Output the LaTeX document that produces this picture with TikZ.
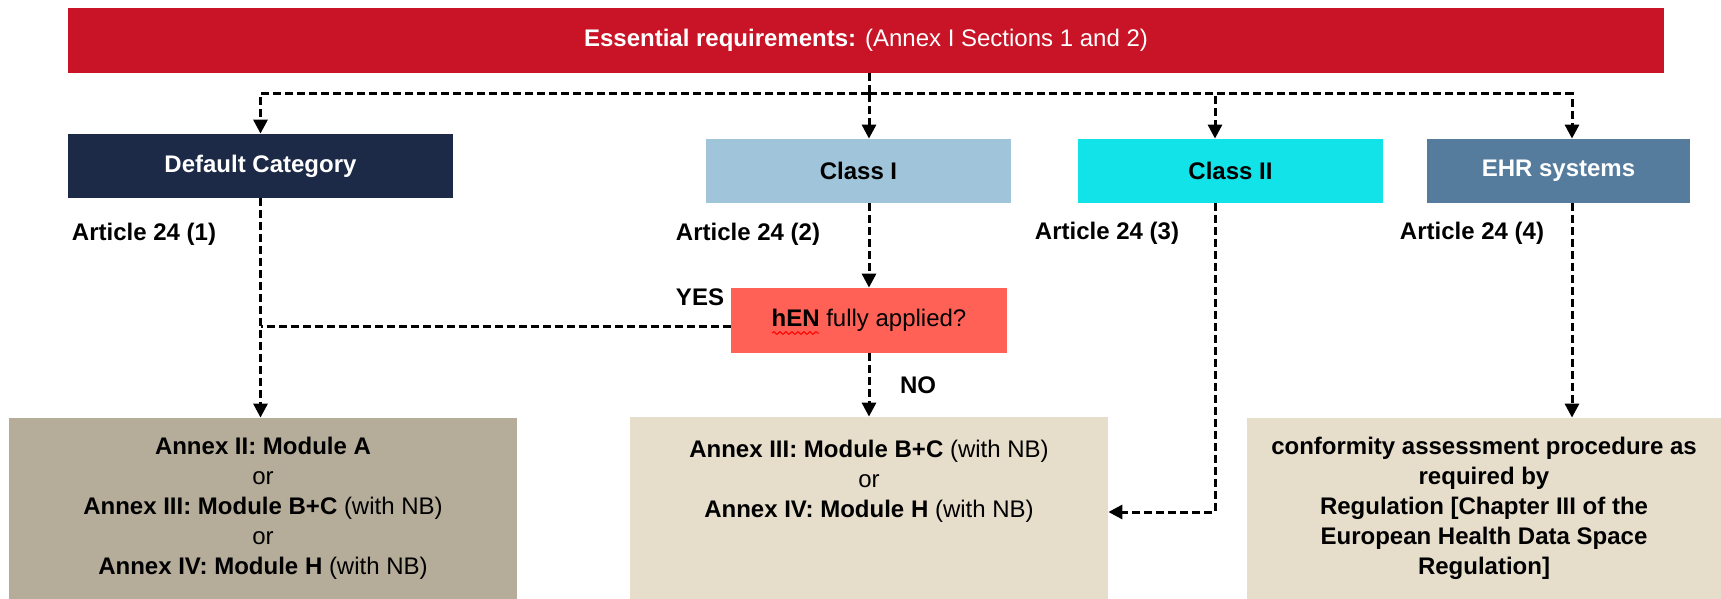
\documentclass[tikz,border=0pt]{standalone}
\usepackage{fontspec}
\setmainfont{Liberation Sans}
\usepackage{xcolor}
\usepackage{tikz}
\usetikzlibrary{arrows.meta,decorations.pathmorphing}

\definecolor{ereq}{RGB}{200,20,38}
\definecolor{navy}{RGB}{28,42,72}
\definecolor{clsonec}{RGB}{160,196,218}
\definecolor{clstwoc}{RGB}{18,227,232}
\definecolor{ehrc}{RGB}{85,123,157}
\definecolor{henc}{RGB}{255,97,86}
\definecolor{tandark}{RGB}{181,172,154}
\definecolor{tanlight}{RGB}{230,221,203}

\begin{document}
\begin{tikzpicture}[x=0.5pt, y=-0.5pt, >={Triangle[length=7pt,width=7pt]},
  font=\fontsize{12}{15}\selectfont\bfseries,
  box/.style={inner sep=0pt, align=center},
  flow/.style={line width=1.5pt, dash pattern=on 4pt off 2pt}]
  \useasboundingbox (0,0) rectangle (1721,599);

  \node[box, fill=ereq, text=white, minimum width=798pt, minimum height=32.5pt] (req) at (866,40.5) {Essential requirements: \mdseries(Annex I Sections 1 and 2)};

  \node[box, fill=navy, text=white, minimum width=192.5pt, minimum height=32pt] (dflt) at (260.5,166) {Default Category};
  \node[box, fill=clsonec, minimum width=152.5pt, minimum height=32pt] (clsone) at (858.5,171) {Class I};
  \node[box, fill=clstwoc, minimum width=152.5pt, minimum height=32pt] (clstwo) at (1230.5,171) {Class II};
  \node[box, fill=ehrc, text=white, minimum width=131.5pt, minimum height=32pt] (ehr) at (1558.5,171) {EHR systems};

  \node (art1) at (144,234) {Article 24 (1)};
  \node (art2) at (748,234) {Article 24 (2)};
  \node (art3) at (1107,233) {Article 24 (3)};
  \node (art4) at (1472,233) {Article 24 (4)};

  \node[box, fill=henc, minimum width=138pt, minimum height=32.5pt] (hen) at (869,320.5) {hEN \mdseries fully applied?};
  \node (yes) at (700,297) {YES};
  \node (no) at (918,385) {NO};

  \node[box, fill=tandark, minimum width=254pt, minimum height=90.5pt] (modA) at (263,508.5) {Annex II: Module A\\ {\mdseries or}\\ Annex III: Module B+C {\mdseries(with NB)}\\ {\mdseries or}\\ Annex IV: Module H {\mdseries(with NB)}};
  \node[box, fill=tanlight, minimum width=239pt, minimum height=91pt] (modBC) at (869,508) {};
  \node[box] (modBCtext) at (869,481) {Annex III: Module B+C {\mdseries(with NB)}\\ {\mdseries or}\\ Annex IV: Module H {\mdseries(with NB)}};
  \node[box, fill=tanlight, minimum width=237pt, minimum height=90.5pt] (cap) at (1484,508.5) {conformity assessment procedure as\\ required by\\ Regulation [Chapter III of the\\ European Health Data Space\\ Regulation]};

  \coordinate (split) at (869,94);
  \coordinate (twofoot) at ([xshift=-7.75pt]clstwo.south);
  \coordinate (ehrfoot) at ([xshift=6.75pt]ehr.south);
  \coordinate (yesend) at ([yshift=-3pt]hen.west);

  \draw[flow] (split |- req.south) -- (split);
  \draw[flow,->] (split) -| (dflt);
  \draw[flow,->] (split) -- (split |- clsone.north);
  \draw[flow,->] (split) -| ([xshift=-7.75pt]clstwo.north);
  \draw[flow,->] (split) -| ([xshift=6.75pt]ehr.north);

  \draw[flow,->] (dflt) -- (dflt |- modA.north);
  \draw[flow] (yesend) -- (yesend -| dflt);
  \draw[flow,->] (split |- clsone.south) -- (hen);
  \draw[flow,->] (hen) -- (modBC);
  \draw[flow,->] (twofoot) |- ([yshift=-2pt]modBC.east);
  \draw[flow,->] (ehrfoot) -- (ehrfoot |- cap.north);

  \draw[red, line width=0.5pt, decorate, decoration={snake, amplitude=0.7pt, segment length=3pt}] (772,333) -- (819,333); % spelling wave under hEN
\end{tikzpicture}
\end{document}
